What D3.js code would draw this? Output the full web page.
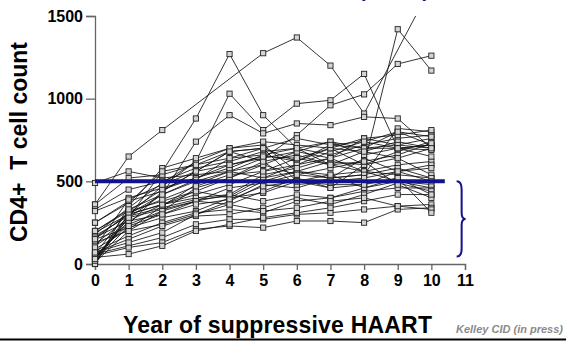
<!DOCTYPE html>
<html>
<head>
<meta charset="utf-8">
<script src="https://cdn.jsdelivr.net/npm/d3@7"></script>
<style>
  body { margin: 0; background: #fff; }
  svg { display: block; font-family: "Liberation Sans", Arial, sans-serif; }
</style>
</head>
<body>
<div id="chart"></div>
<script>
// year of suppressive HAART (0..10), ticks go to 11
const years = [0, 1, 2, 3, 4, 5, 6, 7, 8, 9, 10];
const xTicks = [0, 1, 2, 3, 4, 5, 6, 7, 8, 9, 10, 11];
const yTicks = [0, 500, 1000, 1500];

// CD4+ counts per patient, null = no visit that year
const p01 = [360, 650, 810, null, null, 1275, 1370, 1200, 910, null, 1680];
const p02 = [250, 370, 560, 880, 1270, 900, 700, 600, 560, 500, 460];
const p03 = [160, 300, 470, 620, 1030, 810, 970, 990, 1150, 700, 720];
const p04 = [120, 280, 420, 740, 900, 790, 850, 840, 890, 880, 700];
const p05 = [90, 210, 350, 480, 560, 640, 780, 960, 1026, 1210, 1260];
const p06 = [50, 240, 440, 560, 680, 700, 620, 700, 600, 1420, 1170];
const p07 = [490, 560, 520, 540, 560, 520, 560, 540, 560, 540, 520];
const p08 = [360, 520, 540, 600, 640, 660, 620, 720, 700, 720, 760];
const p09 = [330, 450, 500, 580, 620, 680, 700, 660, 720, 760, 780];
const p10 = [320, 400, 460, 520, 600, 640, 680, 740, 700, 800, 720];
const p11 = [250, 380, 440, 560, 680, 620, 660, 600, 680, 740, 700];
const p12 = [200, 320, 380, 440, 400, 500, 560, 620, 600, 680, 740];
const p13 = [190, 300, 360, 420, 480, 560, 600, 640, 760, 720, 700];
const p14 = [180, 340, 490, 620, 700, 720, 560, 520, 540, 820, 800];
const p15 = [170, 290, 340, 390, 410, 520, 600, 680, 740, 700, 690];
const p16 = [160, 260, 300, 380, 420, 540, 580, 640, 560, 600, 620];
const p17 = [150, 220, 280, 320, 400, 430, 500, 480, 480, 560, 600];
const p18 = [130, 200, 240, 300, 380, 480, 460, 520, 640, 560, 580];
const p19 = [110, 240, 320, 380, 360, 440, 520, 460, 600, 640, 540];
const p20 = [80, 170, 250, 310, 330, 310, 380, 400, 440, 460, 460];
const p21 = [70, 150, 230, 290, 300, 340, 400, 360, 420, 490, 440];
const p22 = [60, 110, 160, 240, 270, 270, 300, 310, 330, 350, 360];
const p23 = [50, 100, 130, 210, 230, 220, 260, 260, 250, 330, 340];
const p24 = [40, 60, 110, 200, 240, 280, 310, 340, 380, 420, 420];
const p25 = [30, 300, 360, 400, 420, 380, 420, 400, 460, 500, 480];
const p26 = [20, 280, 330, 380, 460, 490, 540, 520, 540, 580, 520];
const p27 = [10, 200, 320, 460, 520, 600, 540, 580, 620, 480, 400];
const p28 = [0, 350, 580, 640, 700, 740, 720, 700, 760, 780, 810];
const p29 = [0, 300, 420, 500, 560, 600, 680, 640, 700, 700, 650];
const p30 = [60, 320, 450, 520, 580, 660, 700, 740, 660, 700, 720];
const p31 = [40, 260, 360, 440, 520, 620, 480, 500, 520, 560, 500];
const p32 = [20, 230, 300, 360, 390, 470, 500, 540, 460, 520, 420];
const p33 = [100, 390, 480, 560, 600, 650, 640, 600, 620, 660, 730];
const p34 = [150, 310, 390, 470, 540, 560, 640, 700, 680, 640, 700];
const p35 = [200, 330, 420, 510, 640, 700, 760, 720, 740, 800, 770];
const p36 = [70, 130, 190, 300, 360, 320, 340, 380, 400, 350, 330];
const p37 = [30, 280, 560, 600, 680, 700, 500, 460, 480, 520, 310];

const patients = [p01, p02, p03, p04, p05, p06, p07, p08, p09, p10, p11, p12, p13,
  p14, p15, p16, p17, p18, p19, p20, p21, p22, p23, p24, p25, p26, p27, p28, p29,
  p30, p31, p32, p33, p34, p35, p36, p37];

const threshold = 500;     // blue reference line
const thresholdEnd = 10.4; // where the blue line stops (years)
const braceRange = [500, 45];

const width = 566, height = 341;
const blue = "#12128c";

const svg = d3.select("#chart").append("svg")
    .attr("width", width)
    .attr("height", height);

const x = d3.scaleLinear().domain([0, 11]).range([95, 465]);
const y = d3.scaleLinear().domain([0, 1500]).range([264, 16]);

svg.append("clipPath").attr("id", "plot")
  .append("rect")
    .attr("x", x(0) - 6).attr("y", y(1500))
    .attr("width", x(11) - x(0) + 12).attr("height", y(0) - y(1500) + 6);

// axes
const xAxis = svg.append("g")
    .attr("transform", `translate(0,${y(0)})`)
    .call(d3.axisBottom(x).tickValues(xTicks).tickSize(6).tickPadding(5).tickFormat(d3.format("d")));
const yAxis = svg.append("g")
    .attr("transform", `translate(${x(0)},0)`)
    .call(d3.axisLeft(y).tickValues(yTicks).tickSize(9).tickPadding(3).tickFormat(d3.format("d")));

[xAxis, yAxis].forEach(g => {
  g.select(".domain").attr("stroke", "#666").attr("stroke-width", 1.3);
  g.selectAll(".tick line").attr("stroke", "#666").attr("stroke-width", 1.3);
  g.selectAll(".tick text")
    .attr("fill", "#000")
    .attr("font-family", "Liberation Sans, Arial, sans-serif")
    .attr("font-weight", "bold")
    .attr("font-size", 16);
});

// patient lines
const line = d3.line()
    .x(d => x(d[0]))
    .y(d => y(d[1]));

const series = patients.map(p => years.map((yr, i) => [yr, p[i]]).filter(d => d[1] != null));

const plot = svg.append("g").attr("clip-path", "url(#plot)");

plot.selectAll("path.patient")
  .data(series)
  .enter().append("path")
    .attr("class", "patient")
    .attr("d", line)
    .attr("fill", "none")
    .attr("stroke", "#111")
    .attr("stroke-width", 0.85);

const pts = series.flat().filter(d => d[1] <= 1500);
plot.selectAll("rect.pt")
  .data(pts)
  .enter().append("rect")
    .attr("class", "pt")
    .attr("x", d => x(d[0]) - 2.6)
    .attr("y", d => y(d[1]) - 2.6)
    .attr("width", 5.2)
    .attr("height", 5.2)
    .attr("fill", "#d4d4d4")
    .attr("stroke", "#222")
    .attr("stroke-width", 0.9);

// 500 threshold line
svg.append("line")
    .attr("x1", x(0)).attr("x2", x(thresholdEnd))
    .attr("y1", y(threshold)).attr("y2", y(threshold))
    .attr("stroke", blue)
    .attr("stroke-width", 4);

// curly brace
const bx = x(10.9), yt = y(braceRange[0]), yb = y(braceRange[1]), ym = (yt + yb) / 2;
svg.append("path")
    .attr("d", `M${bx - 5},${yt} Q${bx},${yt} ${bx},${yt + 8} L${bx},${ym - 6} Q${bx},${ym} ${bx + 4},${ym}
      Q${bx},${ym} ${bx},${ym + 6} L${bx},${yb - 8} Q${bx},${yb} ${bx - 5},${yb}`)
    .attr("fill", "none")
    .attr("stroke", blue)
    .attr("stroke-width", 2);

// title above the slide region, only its bottom edge shows
svg.append("text")
    .attr("x", 394).attr("y", -3)
    .attr("text-anchor", "middle")
    .attr("font-weight", "bold")
    .attr("font-size", 20)
    .attr("fill", blue)
    .text("(n = 37)");

// axis titles
svg.append("text")
    .attr("transform", `translate(27,142) rotate(-90)`)
    .attr("text-anchor", "middle")
    .attr("font-weight", "bold")
    .attr("font-size", 23)
    .attr("fill", "#000")
    .style("white-space", "pre")
    .text("CD4+  T cell count");

svg.append("text")
    .attr("x", 123).attr("y", 333)
    .attr("font-weight", "bold")
    .attr("font-size", 23)
    .attr("textLength", 309)
    .attr("fill", "#000")
    .text("Year of suppressive HAART");

svg.append("text")
    .attr("x", 456).attr("y", 333)
    .attr("font-style", "italic")
    .attr("font-weight", "bold")
    .attr("font-size", 11)
    .attr("fill", "#8a8a8a")
    .text("Kelley CID (in press)");

// slide rule at bottom
svg.append("line")
    .attr("x1", 0).attr("x2", width)
    .attr("y1", 339.5).attr("y2", 339.5)
    .attr("stroke", "#000")
    .attr("stroke-width", 2);
</script>
</body>
</html>
